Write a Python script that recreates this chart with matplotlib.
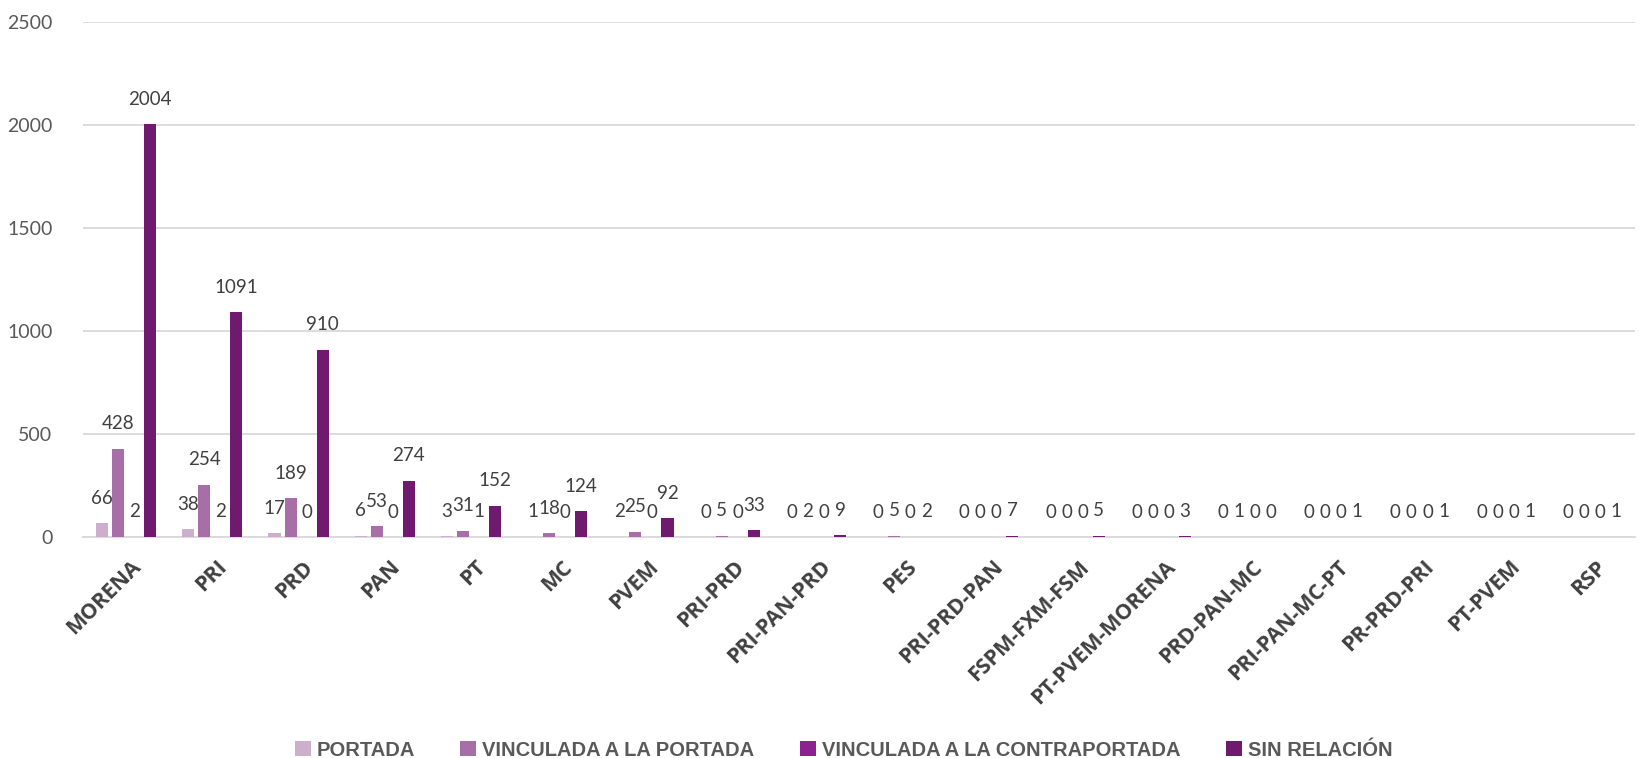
import matplotlib
matplotlib.use("Agg")
import matplotlib.pyplot as plt
import numpy as np

categories = ["MORENA", "PRI", "PRD", "PAN", "PT", "MC", "PVEM", "PRI-PRD",
              "PRI-PAN-PRD", "PES", "PRI-PRD-PAN", "FSPM-FXM-FSM", "PT-PVEM-MORENA",
              "PRD-PAN-MC", "PRI-PAN-MC-PT", "PR-PRD-PRI", "PT-PVEM", "RSP"]
portada =        [66, 38, 17, 6, 3, 1, 2, 0, 0, 0, 0, 0, 0, 0, 0, 0, 0, 0]
vinc_portada =   [428, 254, 189, 53, 31, 18, 25, 5, 2, 5, 0, 0, 0, 1, 0, 0, 0, 0]
vinc_contra =    [2, 2, 0, 0, 1, 0, 0, 0, 0, 0, 0, 0, 0, 0, 0, 0, 0, 0]
sin_relacion =   [2004, 1091, 910, 274, 152, 124, 92, 33, 9, 2, 7, 5, 3, 0, 1, 1, 1, 1]
series_names = ["PORTADA", "VINCULADA A LA PORTADA", "VINCULADA A LA CONTRAPORTADA", "SIN RELACIÓN"]
colors = ["#CDAECD", "#A86EA8", "#8C228F", "#6F1A6E"]
yticks = [0, 500, 1000, 1500, 2000, 2500]

fig = plt.figure(figsize=(16.39, 7.58), dpi=100)
ax = fig.add_axes([83/1639, 1-537/758, 1552/1639, (537-22)/758])

x = np.arange(len(categories))
offsets = [-0.279, -0.093, 0.093, 0.279]
width = 0.14
all_series = [portada, vinc_portada, vinc_contra, sin_relacion]
handles = []
for vals, off, col, name in zip(all_series, offsets, colors, series_names):
    b = ax.bar(x + off, vals, width=width, color=col, label=name, zorder=3)
    handles.append(b)
    for xi, v in zip(x + off, vals):
        ax.annotate(str(v), (xi, v), xytext=(0, 18), textcoords="offset points",
                    ha="center", va="center", fontsize=13.5, color="#404040",
                    family="Lato", zorder=4)

ax.set_xlim(-0.5, len(categories) - 0.5)
ax.set_ylim(0, 2500)
ax.set_yticks(yticks)
ax.set_yticklabels([str(t) for t in yticks], fontsize=14, color="#595959", family="Lato")
ax.yaxis.grid(True, color="#D9D9D9", linewidth=1.3, zorder=0)
ax.set_axisbelow(True)
for s in ["top", "right", "left"]:
    ax.spines[s].set_visible(False)
ax.spines["bottom"].set_color("#D9D9D9")
ax.spines["bottom"].set_linewidth(1.3)
ax.tick_params(axis="y", length=0, pad=22)
ax.tick_params(axis="x", length=0, pad=14)
ax.set_xticks(x + 0.05)
ax.set_xticklabels(categories, rotation=45, ha="right", rotation_mode="anchor",
                   fontsize=15.5, fontweight="bold", color="#404040", family="Open Sans")

fig.legend(handles=handles, labels=series_names, loc="lower center", ncol=4,
           bbox_to_anchor=(0.5147, -0.026), frameon=False, handlelength=0.8, handleheight=0.8,
           handletextpad=0.3, columnspacing=2.25,
           prop={"family": "Liberation Sans", "weight": "bold", "size": 14.5},
           labelcolor="#595959")

fig.savefig("out.png", dpi=100)
